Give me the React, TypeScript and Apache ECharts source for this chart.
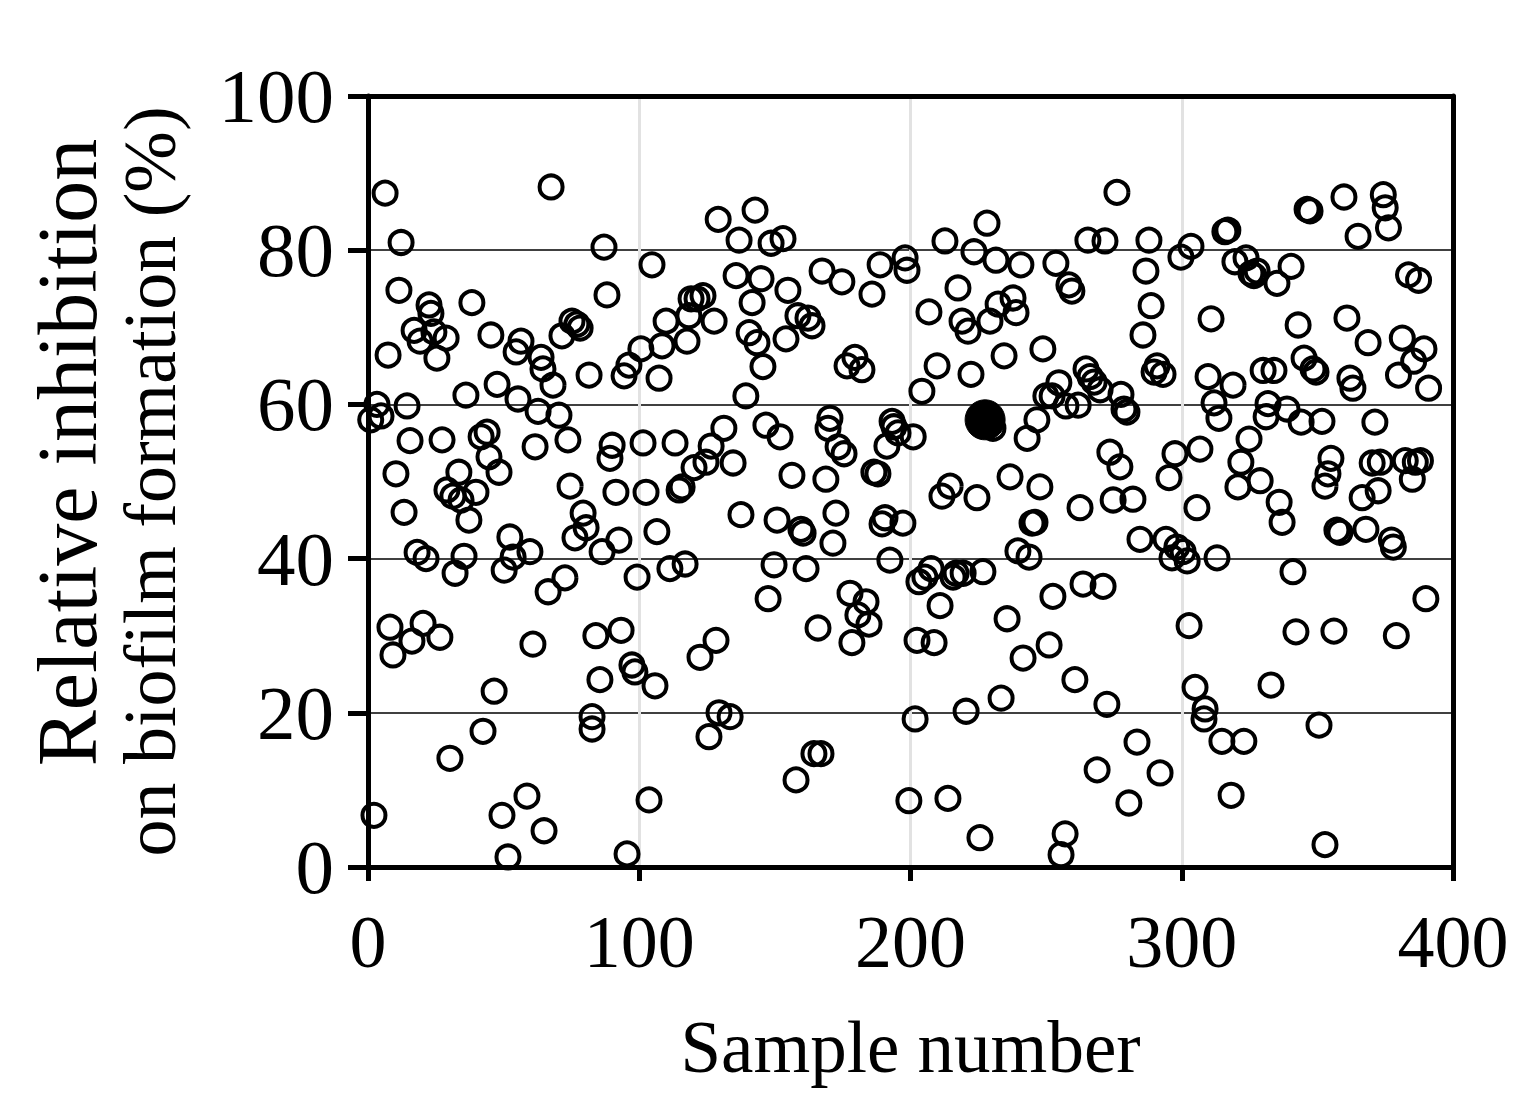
import React, { useEffect, useRef } from "react";
import * as echarts from "echarts";

// Sample number of each tested extract (open circles)
const sampleNumber = [
  1.0, 3.3, 4.8, 2.2, 6.3, 7.4, 8.1, 9.2, 10.3, 11.4, 12.2, 13.3, 14.4, 15.5, 16.2, 17.0, 18.1, 19.2, 20.3, 21.4,
  22.5, 23.2, 24.3, 25.4, 26.5, 27.3, 28.8, 29.1, 30.2, 31.3, 32.1, 33.5, 34.3, 35.4, 36.1, 37.2, 38.3, 39.8, 41.7, 42.4,
  43.9, 44.6, 45.3, 46.5, 47.6, 48.3, 49.4, 50.2, 51.6, 52.3, 53.5, 54.6, 55.3, 56.4, 58.6, 59.7, 60.8, 61.6, 62.7, 63.8,
  64.5, 64.9, 66.4, 67.5, 68.2, 70.4, 71.5, 72.6, 73.7, 74.5, 75.2, 76.3, 77.0, 78.2, 79.3, 80.4, 81.5, 82.6, 82.6, 84.0,
  85.5, 86.3, 87.0, 88.1, 89.2, 90.0, 91.4, 92.5, 93.3, 94.4, 96.2, 95.5, 97.3, 98.4, 99.2, 100.6, 101.4, 102.5, 103.6, 104.7,
  105.8, 106.5, 107.3, 108.4, 109.9, 111.3, 113.2, 114.7, 115.8, 116.9, 117.6, 118.3, 119.1, 120.2, 121.3, 122.4, 123.5, 124.6, 125.7, 126.5,
  127.6, 128.3, 129.4, 129.1, 131.2, 133.5, 134.6, 135.7, 136.8, 137.5, 139.3, 140.5, 141.6, 142.7, 143.4, 144.9, 145.6, 146.7, 147.5, 148.6,
  149.7, 150.8, 151.9, 153.0, 154.1, 154.8, 156.3, 157.8, 158.5, 159.6, 160.4, 161.5, 162.2, 163.7, 164.4, 165.9, 167.0, 167.4, 168.8, 169.6,
  170.3, 171.4, 172.5, 173.3, 174.7, 175.5, 176.6, 177.7, 178.4, 179.5, 180.6, 182.1, 183.6, 184.7, 185.8, 186.5, 188.0, 188.8, 189.5, 190.6,
  191.3, 192.4, 193.2, 193.9, 195.4, 197.2, 198.0, 198.7, 199.4, 201.0, 201.7, 202.4, 203.1, 204.2, 205.3, 206.8, 207.6, 208.7, 209.8, 210.9,
  211.6, 212.7, 213.8, 214.6, 215.7, 216.8, 217.5, 219.0, 219.4, 220.5, 221.2, 222.3, 223.4, 224.5, 225.6, 226.7, 228.2, 229.3, 230.4, 231.5,
  232.3, 233.4, 234.5, 235.6, 236.7, 237.8, 238.9, 239.6, 240.7, 241.5, 243.0, 243.7, 244.8, 245.9, 246.6, 247.7, 248.8, 249.9, 251.1, 252.2,
  252.5, 253.6, 254.7, 255.5, 257.0, 257.3, 258.4, 259.5, 260.6, 261.8, 262.5, 263.6, 264.7, 265.4, 266.2, 267.7, 268.8, 269.9, 271.0, 271.7,
  272.4, 273.5, 274.7, 276.1, 277.2, 277.6, 278.7, 279.8, 280.5, 282.0, 283.5, 284.6, 285.7, 286.8, 287.9, 288.7, 289.8, 290.9, 292.0, 293.1,
  294.2, 295.3, 296.4, 297.5, 298.2, 299.7, 300.5, 302.0, 302.7, 303.4, 304.9, 305.6, 306.7, 308.2, 308.6, 309.7, 310.8, 311.9, 313.0, 313.7,
  314.8, 315.9, 317.0, 318.2, 318.9, 319.6, 320.7, 321.8, 322.9, 323.7, 324.8, 325.5, 326.6, 327.8, 328.9, 330.0, 331.1, 331.8, 332.9, 334.0,
  335.1, 335.9, 337.0, 338.8, 340.3, 341.0, 342.1, 342.9, 344.0, 345.1, 346.2, 347.3, 348.4, 349.5, 350.6, 351.7, 352.8, 352.8, 353.9, 355.0,
  356.1, 357.2, 358.3, 359.8, 360.9, 362.0, 363.1, 365.0, 366.5, 367.9, 368.7, 370.2, 371.2, 372.4, 373.2, 374.3, 375.0, 376.2, 377.3, 378.0,
  379.1, 379.9, 381.3, 382.4, 383.6, 385.0, 386.1, 387.3, 388.0, 385.5, 389.3, 390.0, 391.0,
];

// Relative inhibition on biofilm formation (%) for each sample above
const inhibition = [
  58.0, 60.0, 58.5, 6.7, 87.4, 66.4, 31.1, 27.5, 51.0, 74.8, 81.0, 46.0, 59.8, 55.3, 29.3, 69.6, 40.8, 68.2, 31.6, 40.0,
  72.9, 71.8, 69.4, 66.0, 29.8, 55.4, 68.6, 48.9, 14.1, 48.1, 38.1, 51.2, 47.6, 40.3, 61.2, 45.0, 73.2, 48.6, 55.8, 17.6,
  56.4, 53.2, 69.0, 22.8, 62.6, 51.2, 6.7, 38.5, 1.3, 42.8, 40.2, 66.8, 60.7, 68.2, 9.2, 40.9, 28.9, 54.5, 59.1, 66.1,
  64.6, 4.7, 35.7, 88.2, 62.5, 58.6, 68.9, 37.5, 55.4, 49.4, 70.8, 42.7, 70.4, 69.9, 45.9, 44.0, 63.8, 19.5, 17.9, 30.0,
  24.3, 40.9, 80.4, 74.2, 53.0, 54.7, 48.6, 42.4, 30.7, 63.7, 65.1, 1.7, 26.2, 25.3, 37.6, 67.2, 55.0, 48.6, 8.7, 78.1,
  23.5, 43.5, 63.4, 67.6, 70.8, 38.7, 55.0, 48.9, 49.3, 39.3, 68.2, 71.5, 73.7, 51.8, 73.7, 27.2, 74.1, 52.5, 16.9, 54.6,
  70.8, 29.4, 20.0, 84.0, 56.9, 19.5, 52.4, 76.7, 81.3, 45.7, 61.1, 69.3, 73.2, 85.2, 68.0, 76.3, 64.9, 57.3, 34.8, 80.9,
  39.2, 45.0, 55.8, 81.5, 68.5, 74.8, 50.8, 11.3, 71.5, 43.8, 43.3, 38.7, 71.2, 70.2, 14.7, 31.0, 14.7, 77.3, 50.3, 56.9,
  58.2, 42.0, 45.9, 54.5, 75.9, 53.6, 65.0, 35.5, 29.1, 66.1, 32.7, 64.5, 34.4, 31.5, 74.3, 51.2, 51.0, 78.1, 44.5, 45.3,
  54.6, 39.8, 57.8, 57.1, 56.3, 44.6, 79.0, 77.4, 8.6, 55.8, 19.2, 29.4, 37.0, 61.7, 37.6, 72.0, 38.7, 29.1, 65.0, 33.9,
  48.1, 81.2, 8.9, 49.4, 37.6, 38.1, 75.1, 70.8, 38.1, 20.2, 69.5, 63.9, 79.8, 47.9, 3.8, 38.3, 83.5, 70.8, 56.9, 78.7,
  73.0, 21.9, 66.3, 32.2, 50.6, 73.8, 71.9, 41.0, 78.1, 27.1, 55.6, 40.2, 44.6, 44.7, 58.0, 49.3, 67.2, 61.1, 28.8, 61.1,
  35.1, 78.3, 62.8, 1.6, 4.3, 59.8, 75.5, 74.7, 24.3, 59.9, 46.6, 36.7, 64.6, 81.3, 63.6, 62.9, 12.6, 61.9, 36.4, 81.2,
  21.1, 53.8, 47.6, 87.5, 51.9, 61.3, 59.4, 59.0, 8.3, 47.7, 16.2, 42.5, 69.0, 77.3, 81.3, 72.8, 64.2, 65.0, 12.2, 63.9,
  42.5, 50.5, 40.1, 53.6, 41.5, 79.1, 40.9, 39.7, 31.3, 80.5, 23.3, 46.6, 54.2, 19.2, 20.5, 63.6, 71.1, 60.2, 40.1, 58.2,
  16.3, 82.4, 82.6, 9.3, 62.5, 78.5, 49.3, 52.5, 16.3, 79.0, 55.5, 77.0, 76.7, 77.3, 50.1, 64.4, 58.4, 60.1, 23.6, 64.4,
  75.7, 47.3, 44.7, 59.4, 77.9, 38.3, 30.5, 70.3, 57.7, 66.0, 85.3, 85.1, 64.6, 64.2, 18.4, 57.8, 49.4, 2.9, 51.0, 53.0,
  30.6, 43.7, 43.4, 86.9, 71.2, 63.4, 62.1, 81.8, 47.9, 43.8, 68.0, 52.4, 57.7, 48.8, 52.5, 87.2, 85.5, 82.9, 42.4, 41.5,
  30.0, 63.8, 68.6, 52.7, 76.8, 50.3, 52.5, 76.1, 52.7, 65.6, 67.2, 34.8, 62.1,
];

// Highlighted sample (filled circle)
const highlightSample = [227.5];
const highlightInhibition = [58.0];

const xTickValues = [0, 100, 200, 300, 400];
const yTickValues = [0, 20, 40, 60, 80, 100];

const FONT = "'Liberation Serif', 'Times New Roman', 'DejaVu Serif', serif";

export default function App() {
  const ref = useRef<HTMLDivElement>(null);

  useEffect(() => {
    if (!ref.current) return;
    const chart = echarts.init(ref.current, undefined, { renderer: "svg" });

    const openData = sampleNumber.map((s, i) => [s, inhibition[i]]);
    const filledData = highlightSample.map((s, i) => [s, highlightInhibition[i]]);

    const frameAxis = {
      axisLine: { show: true, onZero: false, lineStyle: { color: "#000", width: 5 } },
      axisTick: { show: false },
      axisLabel: { show: false },
      splitLine: { show: false },
    };

    const option: any = {
      animation: false,
      backgroundColor: "#ffffff",
      grid: {
        left: 368,
        top: 96,
        width: 1085,
        height: 771,
        show: false,
      },
      xAxis: [
        {
          type: "value",
          min: xTickValues[0],
          max: xTickValues[xTickValues.length - 1],
          interval: 100,
          name: "Sample number",
          nameLocation: "middle",
          nameGap: 140,
          nameTextStyle: { fontFamily: FONT, fontSize: 73, lineHeight: 80, color: "#000" },
          axisLine: { show: true, onZero: false, lineStyle: { color: "#000", width: 5 } },
          axisTick: { show: true, inside: false, length: 14, lineStyle: { color: "#000", width: 5 } },
          axisLabel: { margin: 38, fontFamily: FONT, fontSize: 74, color: "#000" },
          splitLine: { show: true, lineStyle: { color: "#e2e2e2", width: 3 } },
        },
        {
          type: "value",
          position: "top",
          min: xTickValues[0],
          max: xTickValues[xTickValues.length - 1],
          ...frameAxis,
        },
      ],
      yAxis: [
        {
          type: "value",
          min: yTickValues[0],
          max: yTickValues[yTickValues.length - 1],
          interval: 20,
          name: "{a|Relative inhibition}\n{b|on biofilm formation (%)}",
          nameLocation: "middle",
          nameRotate: 90,
          nameGap: 178,
          nameTextStyle: {
            fontFamily: FONT,
            color: "#000",
            rich: {
              a: { fontFamily: FONT, fontSize: 84, lineHeight: 86, color: "#000", padding: [0, 0, 0, 58] },
              b: { fontFamily: FONT, fontSize: 74, lineHeight: 80, color: "#000" },
            },
          },
          axisLine: { show: true, onZero: false, lineStyle: { color: "#000", width: 5 } },
          axisTick: { show: true, inside: false, length: 20, lineStyle: { color: "#000", width: 5 } },
          axisLabel: { margin: 34, fontFamily: FONT, fontSize: 77, color: "#000" },
          splitLine: { show: true, lineStyle: { color: "#000", width: 1.5 } },
        },
        {
          type: "value",
          position: "right",
          min: yTickValues[0],
          max: yTickValues[yTickValues.length - 1],
          ...frameAxis,
        },
      ],
      series: [
        {
          type: "scatter",
          data: openData,
          symbol: "circle",
          symbolSize: 23,
          itemStyle: { color: "rgba(255,255,255,0)", borderColor: "#000", borderWidth: 4, opacity: 1 },
          z: 3,
        },
        {
          type: "scatter",
          data: filledData,
          symbol: "circle",
          symbolSize: 40,
          itemStyle: { color: "#000", borderColor: "#000", borderWidth: 1, opacity: 1 },
          z: 4,
        },
      ],
    };

    chart.setOption(option);
    return () => chart.dispose();
  }, []);

  return (
    <div
      ref={ref}
      style={{ position: "absolute", left: 0, top: 0, width: 1522, height: 1099, background: "#fff" }}
    />
  );
}
